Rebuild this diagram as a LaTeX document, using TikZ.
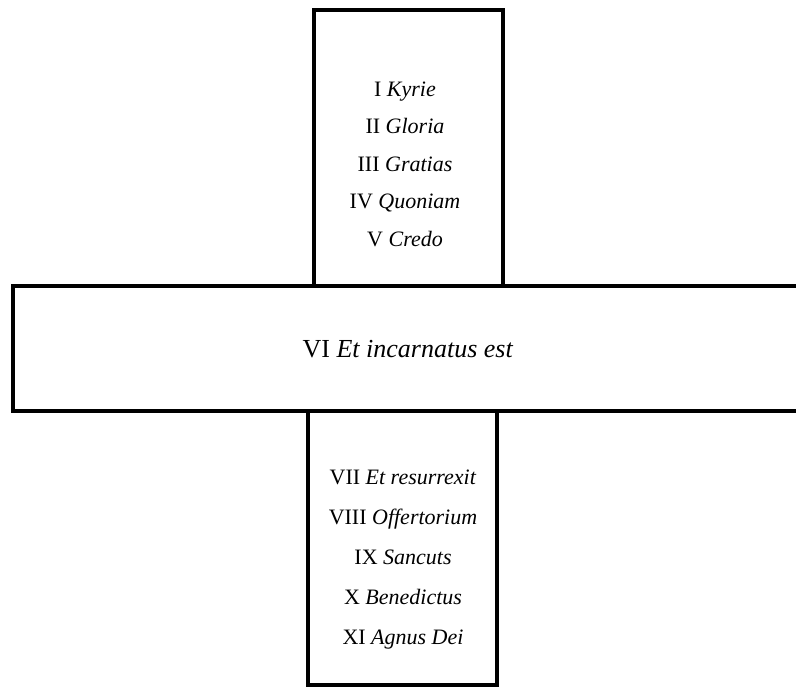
\documentclass[tikz,border=0pt]{standalone}
\usepackage{fontspec}
\setmainfont{Liberation Serif}
\begin{document}
\begin{tikzpicture}[x=1pt,y=-1pt,
  panel/.style={draw=black, line width=4pt, fill=white, inner sep=0pt, outer sep=0pt},
  listtext/.style={align=center, font=\fontsize{22}{37.5}\selectfont, inner sep=0pt},
  midtext/.style={font=\fontsize{26}{30}\selectfont, inner sep=0pt}]
\useasboundingbox (0,0) rectangle (796,687);
\clip (0,0) rectangle (796,687);
% horizontal bar (runs off the right edge)
\node[panel, minimum width=797pt, minimum height=125pt] (bar) at (411.5,348.5) {};
% upper and lower arms
\node[panel, minimum width=189pt, minimum height=276pt] (upper) at (408.5,148) {};
\node[panel, minimum width=189pt, minimum height=274pt] (lower) at (402.5,548) {};
% texts
\node[listtext] (ulist) at (405,164) {I \textit{Kyrie}\\ II \textit{Gloria}\\ III \textit{Gratias}\\ IV \textit{Quoniam}\\ V \textit{Credo}};
\node[midtext] (mid) at (408,349) {VI \textit{Et incarnatus est}};
\node[listtext, font=\fontsize{22}{40}\selectfont] (llist) at (403,560) {VII \textit{Et resurrexit}\\ VIII \textit{Offertorium}\\ IX \textit{Sancuts}\\ X \textit{Benedictus}\\ XI \textit{Agnus Dei}};
\end{tikzpicture}
\end{document}
